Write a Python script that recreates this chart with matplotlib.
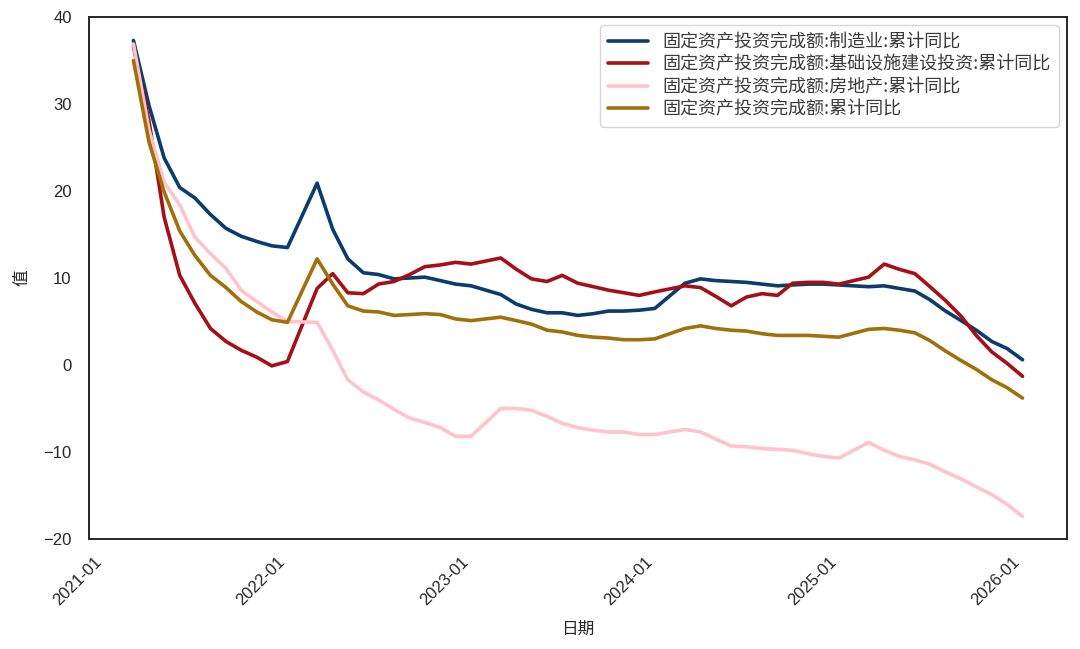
import matplotlib
matplotlib.use("Agg")
import matplotlib.pyplot as plt
import matplotlib.dates as mdates
import pandas as pd

plt.rcParams['font.family'] = ['Liberation Sans', 'Noto Sans CJK SC', 'DejaVu Sans']
plt.rcParams['axes.unicode_minus'] = True

# Data months (Jan-Feb combined, so no January observations), month-end dates
years = [2021, 2022, 2023, 2024, 2025]
months = [2, 3, 4, 5, 6, 7, 8, 9, 10, 11, 12]
dates = [pd.Timestamp(y, m, 1) + pd.offsets.MonthEnd(0) for y in years for m in months]

manufacturing = [
    37.3, 29.8, 23.8, 20.4, 19.2, 17.3, 15.7, 14.8, 14.2, 13.7, 13.5,
    20.9, 15.6, 12.2, 10.6, 10.4, 9.9, 10.0, 10.1, 9.7, 9.3, 9.1,
    8.1, 7.0, 6.4, 6.0, 6.0, 5.7, 5.9, 6.2, 6.2, 6.3, 6.5,
    9.4, 9.9, 9.7, 9.6, 9.5, 9.3, 9.1, 9.2, 9.3, 9.3, 9.2,
    9.0, 9.1, 8.8, 8.5, 7.5, 6.2, 5.1, 4.0, 2.7, 1.9, 0.6,
]
infrastructure = [
    36.6, 28.0, 17.0, 10.3, 7.1, 4.2, 2.7, 1.7, 0.9, -0.1, 0.4,
    8.8, 10.5, 8.3, 8.2, 9.3, 9.6, 10.4, 11.3, 11.5, 11.8, 11.6,
    12.3, 11.0, 9.9, 9.6, 10.3, 9.4, 9.0, 8.6, 8.3, 8.0, 8.4,
    9.1, 8.9, 7.9, 6.8, 7.8, 8.2, 8.0, 9.4, 9.5, 9.5, 9.3,
    10.1, 11.6, 11.0, 10.5, 9.0, 7.4, 5.6, 3.4, 1.5, 0.2, -1.3,
]
real_estate = [
    36.9, 27.0, 21.0, 18.4, 14.7, 12.8, 11.1, 8.6, 7.3, 6.1, 5.0,
    4.9, 1.7, -1.7, -3.1, -4.0, -5.1, -6.1, -6.6, -7.2, -8.2, -8.2,
    -5.0, -5.0, -5.2, -5.9, -6.7, -7.2, -7.5, -7.7, -7.7, -8.0, -8.0,
    -7.4, -7.7, -8.5, -9.3, -9.4, -9.6, -9.7, -9.8, -10.2, -10.5, -10.7,
    -8.9, -9.8, -10.5, -10.9, -11.4, -12.3, -13.1, -14.0, -14.9, -16.0, -17.4,
]
total = [
    35.0, 25.6, 19.9, 15.4, 12.6, 10.3, 8.9, 7.3, 6.1, 5.2, 4.9,
    12.2, 9.3, 6.8, 6.2, 6.1, 5.7, 5.8, 5.9, 5.8, 5.3, 5.1,
    5.5, 5.1, 4.7, 4.0, 3.8, 3.4, 3.2, 3.1, 2.9, 2.9, 3.0,
    4.2, 4.5, 4.2, 4.0, 3.9, 3.6, 3.4, 3.4, 3.4, 3.3, 3.2,
    4.1, 4.2, 4.0, 3.7, 2.8, 1.6, 0.5, -0.5, -1.7, -2.6, -3.8,
]

labels = [
    '固定资产投资完成额:制造业:累计同比',
    '固定资产投资完成额:基础设施建设投资:累计同比',
    '固定资产投资完成额:房地产:累计同比',
    '固定资产投资完成额:累计同比',
]
colors = ['#0A3C6E', '#A50F15', '#FFC4CB', '#A0700A']
series = [manufacturing, infrastructure, real_estate, total]

W, H = 1080, 649
fig = plt.figure(figsize=(W / 100, H / 100), dpi=100)
ax = fig.add_axes([89 / W, (H - 539) / H, (1067 - 89) / W, (539 - 17) / H])

for vals, lab, col in zip(series, labels, colors):
    ax.plot(dates, vals, color=col, lw=2.6, label=lab, solid_capstyle='round')

ax.set_ylim(-20, 40)
ax.set_yticks([-20, -10, 0, 10, 20, 30, 40])
ax.xaxis.set_major_locator(mdates.YearLocator())
ax.xaxis.set_major_formatter(mdates.DateFormatter('%Y-%m'))
for lbl in ax.get_xticklabels():
    lbl.set_rotation(45)
    lbl.set_ha('right')

ax.tick_params(axis='both', length=0, labelsize=12, colors='#262626')
ax.tick_params(axis='x', pad=11)
ax.tick_params(axis='y', pad=12.5)
for sp in ax.spines.values():
    sp.set_color('#262626')
    sp.set_linewidth(1.4)

ax.set_xlabel('日期', fontsize=12, color='#262626', family=['Noto Sans CJK SC'], labelpad=9)
ax.set_ylabel('值', fontsize=12, color='#262626', family=['Noto Sans CJK SC'], labelpad=9)

leg = ax.legend(loc='upper right', prop={'family': ['Noto Sans CJK SC'], 'size': 13},
                frameon=True, labelspacing=0.25, handlelength=2.2,
                borderpad=0.45, borderaxespad=0.45)
leg.get_frame().set_edgecolor('#cccccc')
leg.get_frame().set_linewidth(1.0)
for t in leg.get_texts():
    t.set_color('#3a3a3a')

fig.savefig('out.png', dpi=100, facecolor='white')
